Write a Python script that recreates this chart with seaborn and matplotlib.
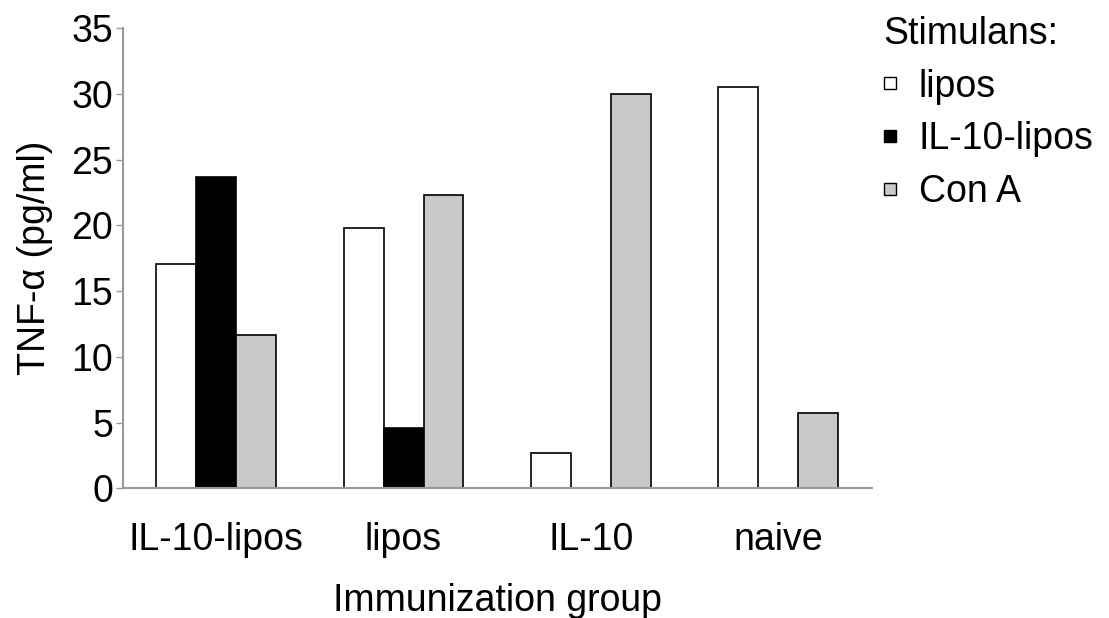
import numpy as np
import pandas as pd
import matplotlib
matplotlib.use("Agg")
import matplotlib.pyplot as plt
import seaborn as sns
from matplotlib.lines import Line2D

# data
groups = ["IL-10-lipos", "lipos", "IL-10", "naive"]
stimulans = ["lipos", "IL-10-lipos", "Con A"]
tnf_lipos = [17.1, 19.8, 2.7, 30.5]
tnf_il10_lipos = [23.7, 4.6, np.nan, np.nan]
tnf_cona = [11.7, 22.3, 30.0, 5.75]
colors = ["white", "black", "#c8c8c8"]

df = pd.DataFrame({
    "group": groups * 3,
    "stim": [s for s in stimulans for _ in groups],
    "tnf": tnf_lipos + tnf_il10_lipos + tnf_cona,
}).dropna()

sns.set_style("white", rc={"text.color": "black", "axes.labelcolor": "black",
                           "xtick.color": "black", "ytick.color": "black"})
plt.rcParams["font.family"] = ["Liberation Sans", "DejaVu Sans"]

fs = 27
fig = plt.figure(figsize=(11.09, 6.18), dpi=100)
ax = fig.add_axes([0.1106, 0.2099, 0.6754, 0.7443])

sns.barplot(data=df, x="group", y="tnf", hue="stim", order=groups,
            hue_order=stimulans, palette=colors, width=0.64,
            edgecolor="black", linewidth=1.2, errorbar=None, ax=ax,
            legend=False)

ax.set_ylim(0, 35)
ax.set_yticks(range(0, 36, 5))
ax.set_xlim(-0.5, len(groups) - 0.5)
for side in ["top", "right"]:
    ax.spines[side].set_visible(False)
for side in ["left", "bottom"]:
    ax.spines[side].set_color("#999999")
    ax.spines[side].set_linewidth(1.5)

ax.tick_params(axis="y", length=5, width=1, color="#999999", left=True,
               labelsize=fs, pad=2)
ax.tick_params(axis="x", length=0, labelsize=fs, pad=24)
ax.set_ylabel("TNF-α (pg/ml)", fontsize=fs, labelpad=13)
ax.set_xlabel("Immunization group", fontsize=fs, labelpad=18)

# legend with small square swatches
handles = [Line2D([], [], linestyle="none", marker="s", markersize=8,
                  markerfacecolor=c, markeredgecolor="black",
                  markeredgewidth=1) for c in colors]
leg = ax.legend(handles, stimulans, title="Stimulans:", loc="upper left",
                bbox_to_anchor=(0.995, 1.06), frameon=False, fontsize=fs,
                title_fontsize=fs, handlelength=0.4, handletextpad=0.55,
                labelspacing=0.45, borderaxespad=0)
leg._legend_box.align = "left"

fig.savefig("out.png", dpi=100)
